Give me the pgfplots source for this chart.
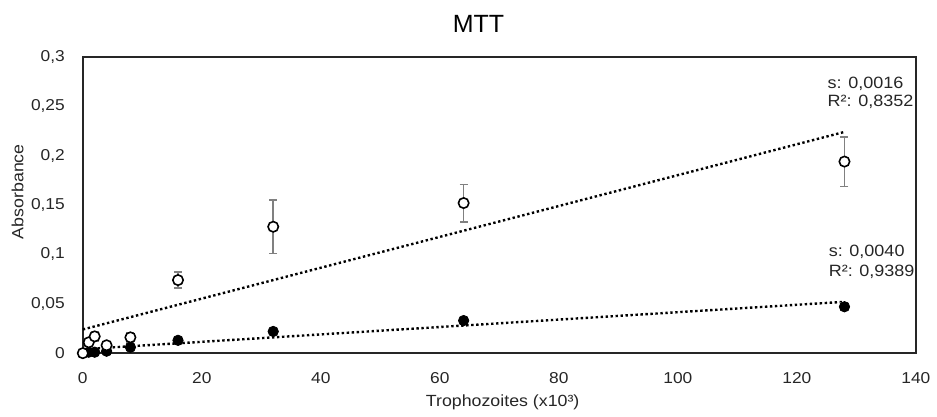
\documentclass[border=0pt]{standalone}
\usepackage{fontspec}
\setmainfont{Liberation Sans}
\newfontfamily\wide{Liberation Sans}[FakeStretch=1.1]
\usepackage{pgfplots}
\pgfplotsset{compat=1.18}

\begin{document}
\begin{tikzpicture}
    \begin{axis}[
        name=ax,
        scale only axis,
        width=417.5pt,
        height=148.5pt,
        xmin=0, xmax=140,
        ymin=0, ymax=0.3,
        xtick={0,20,40,60,80,100,120,140},
        xticklabels={0,20,40,60,80,100,120,140},
        ytick={0,0.05,0.1,0.15,0.2,0.25,0.3},
        yticklabels={0,{0,05},{0,1},{0,15},{0,2},{0,25},{0,3}},
        major tick length=0pt,
        axis line style={line width=1pt, black!85},
        tick label style={font=\wide\fontsize{7.9}{9}\selectfont, black!85},
        yticklabel style={xshift=-5.5pt},
        xticklabel style={yshift=-6pt},
        xlabel={Trophozoites (x10³)},
        ylabel={Absorbance},
        label style={font=\wide\fontsize{8.1}{9}\selectfont, black!85},
        xlabel style={at={(axis description cs:0.504,0)}, anchor=base, yshift=-26.5pt},
        ylabel style={at={(axis description cs:-0.0784,0.545)}, anchor=center},
        clip=false,
    ]
    % trend lines
    \addplot[black, line width=1.2pt, dash pattern=on 1.2pt off 1.3pt] coordinates {(0,0.024) (128,0.224)};
    \addplot[black, line width=1.2pt, dash pattern=on 1.2pt off 1.3pt] coordinates {(0,0.004) (128,0.052)};

    % filled circles
    \addplot[only marks, mark=*, mark size=2.6pt, mark options={fill=black, draw=black},
        error bars/.cd, y dir=both, y explicit,
        error bar style={gray, line width=0.75pt}, error mark options={rotate=90, mark size=2pt, gray, line width=0.75pt}]
        coordinates {
        (1,0.001) +- (0,0.001)
        (2,0.001) +- (0,0.001)
        (4,0.002) +- (0,0.001)
        (8,0.006) +- (0,0.002)
        (16,0.013) +- (0,0.002)
        (32,0.022) +- (0,0.002)
        (64,0.033) +- (0,0.002)
        (128,0.047) +- (0,0.004)
    };

    % open circles
    \addplot[only marks, mark=*, mark size=2.6pt, mark options={fill=white, draw=black, line width=0.8pt},
        error bars/.cd, y dir=both, y explicit,
        error bar style={gray, line width=0.75pt}, error mark options={rotate=90, mark size=2pt, gray, line width=0.75pt}]
        coordinates {
        (0,0) +- (0,0)
        (1,0.011) +- (0,0.003)
        (2,0.017) +- (0,0.005)
        (4,0.008) +- (0,0.004)
        (8,0.016) +- (0,0.005)
        (16,0.074) +- (0,0.008)
        (32,0.128) +- (0,0.027)
        (64,0.152) +- (0,0.019)
        (128,0.194) +- (0,0.025)
    };

    \node[anchor=base, font=\fontsize{12.5}{14}\selectfont, black]
        at (rel axis cs:0.475,1) [yshift=12pt] {MTT};
    \node[anchor=base west, align=left, font=\wide\fontsize{8.2}{9.2}\selectfont, black!85, inner sep=0pt]
        at (axis cs:125.1,0.2495) {s: 0,0016\\R²: 0,8352};
    \node[anchor=base west, align=left, font=\wide\fontsize{8.2}{9.8}\selectfont, black!85, inner sep=0pt]
        at (axis cs:125.3,0.0778) {s: 0,0040\\R²: 0,9389};
    \end{axis}
    \path[use as bounding box] ([shift={(-41.5pt,-29pt)}]ax.south west) rectangle ([shift={(427pt,177pt)}]ax.south west);
\end{tikzpicture}
\end{document}
